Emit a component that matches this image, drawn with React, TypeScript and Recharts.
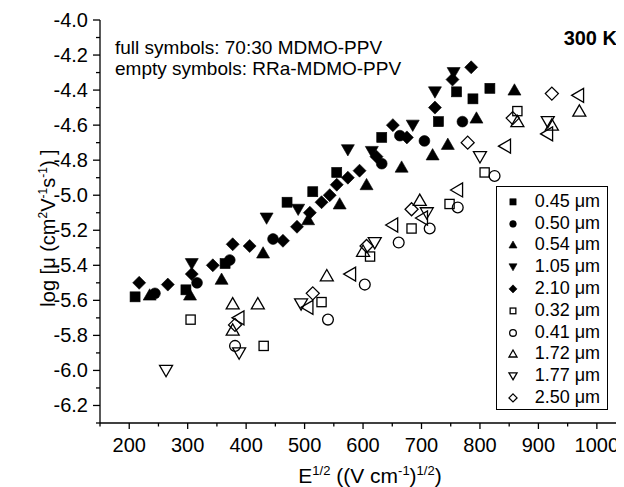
import React from 'react';
import { ScatterChart, Scatter, XAxis, YAxis, Legend } from 'recharts';

const FONT = '"Liberation Sans", Arial, Helvetica, sans-serif';

// tick values
const xTicks = [150, 200, 250, 300, 350, 400, 450, 500, 550, 600, 650, 700, 750, 800, 850, 900, 950, 1000];
const yTicks = [-6.3, -6.2, -6.1, -6.0, -5.9, -5.8, -5.7, -5.6, -5.5, -5.4, -5.3, -5.2, -5.1, -5.0, -4.9, -4.8, -4.7, -4.6, -4.5, -4.4, -4.3, -4.2, -4.1, -4.0];

// series values [E^1/2, log mu]
const s045 = [[210, -5.58], [297, -5.54], [364, -5.39], [470, -5.04], [514, -4.98], [555, -4.87], [632, -4.67], [729, -4.58], [760, -4.41], [788, -4.45], [817, -4.39]];
const s050 = [[244, -5.56], [316, -5.5], [372, -5.37], [446, -5.25], [632, -4.82], [663, -4.66], [705, -4.69], [770, -4.58]];
const s054 = [[235, -5.57], [304, -5.57], [358, -5.48], [429, -5.33], [506, -5.14], [560, -5.05], [606, -4.94], [666, -4.84], [719, -4.77], [745, -4.71], [794, -4.56], [859, -4.4]];
const s105 = [[307, -5.39], [435, -5.13], [489, -5.08], [574, -4.74], [615, -4.75], [685, -4.6], [723, -4.41], [755, -4.3]];
const s210 = [[217, -5.5], [266, -5.51], [307, -5.45], [343, -5.4], [377, -5.28], [406, -5.29], [463, -5.26], [487, -5.18], [509, -5.1], [529, -5.04], [543, -5.0], [555, -4.94], [574, -4.9], [594, -4.86], [623, -4.78], [651, -4.6], [675, -4.67], [723, -4.5], [753, -4.34], [785, -4.27]];
const o032 = [[305, -5.71], [430, -5.86], [529, -5.61], [612, -5.35], [683, -5.19], [748, -5.05], [808, -4.87], [864, -4.52]];
const o041 = [[381, -5.86], [540, -5.71], [603, -5.51], [661, -5.27], [714, -5.19], [762, -5.07], [825, -4.89]];
const o172 = [[377, -5.62], [420, -5.62], [377, -5.77], [538, -5.46], [600, -5.32], [697, -5.03], [864, -4.58], [923, -4.6], [970, -4.52]];
const o177 = [[263, -6.0], [388, -5.9], [494, -5.62], [620, -5.27], [709, -5.1], [800, -4.78], [916, -4.58]];
const o250 = [[381, -5.74], [514, -5.56], [606, -5.29], [683, -5.08], [779, -4.7], [856, -4.56], [923, -4.42]];
const oLeft = [[386, -5.7], [504, -5.64], [577, -5.45], [649, -5.17], [700, -5.13], [760, -4.97], [842, -4.72], [914, -4.65], [967, -4.43]];

type Kind = 'square' | 'circle' | 'up' | 'down' | 'diamond' | 'left';

const toPts = (a: number[][]) => a.map(([x, y]) => ({ x, y }));

const series: { name: string; data: number[][]; kind: Kind; filled: boolean; legend: boolean }[] = [
  { name: '0.45 μm', data: s045, kind: 'square', filled: true, legend: true },
  { name: '0.50 μm', data: s050, kind: 'circle', filled: true, legend: true },
  { name: '0.54 μm', data: s054, kind: 'up', filled: true, legend: true },
  { name: '1.05 μm', data: s105, kind: 'down', filled: true, legend: true },
  { name: '2.10 μm', data: s210, kind: 'diamond', filled: true, legend: true },
  { name: '0.32 μm', data: o032, kind: 'square', filled: false, legend: true },
  { name: '0.41 μm', data: o041, kind: 'circle', filled: false, legend: true },
  { name: '1.72 μm', data: o172, kind: 'up', filled: false, legend: true },
  { name: '1.77 μm', data: o177, kind: 'down', filled: false, legend: true },
  { name: '2.50 μm', data: o250, kind: 'diamond', filled: false, legend: true },
  { name: 'left', data: oLeft, kind: 'left', filled: false, legend: false },
];

const Marker = ({ cx, cy, kind, filled, k = 1 }: { cx: number; cy: number; kind: Kind; filled: boolean; k?: number }) => {
  const fill = filled ? '#000' : 'none';
  const stroke = '#000';
  const sw = filled ? 0.6 : 1.3;
  if (cx == null || cy == null) return null;
  switch (kind) {
    case 'square': {
      const h = (filled ? 5 : 4.6) * k;
      return <rect x={cx - h} y={cy - h} width={2 * h} height={2 * h} fill={fill} stroke={stroke} strokeWidth={sw} />;
    }
    case 'circle':
      return <circle cx={cx} cy={cy} r={5.4 * k} fill={fill} stroke={stroke} strokeWidth={sw} />;
    case 'up': {
      const w = 6.5 * k, t = 6.3 * k, b = 5 * k;
      return <polygon points={`${cx},${cy - t} ${cx + w},${cy + b} ${cx - w},${cy + b}`} fill={fill} stroke={stroke} strokeWidth={sw} />;
    }
    case 'down': {
      const w = 6.5 * k, t = 6.3 * k, b = 5 * k;
      return <polygon points={`${cx},${cy + t} ${cx + w},${cy - b} ${cx - w},${cy - b}`} fill={fill} stroke={stroke} strokeWidth={sw} />;
    }
    case 'diamond': {
      const h = 6.5 * k;
      return <polygon points={`${cx},${cy - h} ${cx + h},${cy} ${cx},${cy + h} ${cx - h},${cy}`} fill={fill} stroke={stroke} strokeWidth={sw} />;
    }
    case 'left': {
      const w = 6 * k, h = 7 * k;
      return <polygon points={`${cx - w},${cy} ${cx + w},${cy - h} ${cx + w},${cy + h}`} fill={fill} stroke={stroke} strokeWidth={sw} />;
    }
  }
  return null;
};

const isMajorX = (v: number) => v % 100 === 0;
const isMajorY = (v: number) => Math.abs(Math.round(v * 10)) % 2 === 0;

const BottomTick = (p: any) => {
  const { x, y, payload } = p;
  const v = payload.value;
  const major = isMajorX(v);
  return (
    <g>
      <line x1={x} x2={x} y1={y} y2={y + (major ? 6 : 3.5)} stroke="#000" strokeWidth={1.3} />
      {major && (
        <text x={x} y={y + 29} textAnchor="middle" fontSize={20} fontFamily={FONT} fill="#000">
          {v}
        </text>
      )}
    </g>
  );
};

const TopTick = (p: any) => {
  const { x, y, payload } = p;
  const major = isMajorX(payload.value);
  return <line x1={x} x2={x} y1={y} y2={y + (major ? 6 : 4)} stroke="#000" strokeWidth={1.3} />;
};

const LeftTick = (p: any) => {
  const { x, y, payload } = p;
  const v = payload.value;
  const major = isMajorY(v);
  return (
    <g>
      <line x1={x - (major ? 7 : 4)} x2={x} y1={y} y2={y} stroke="#000" strokeWidth={1.3} />
      {major && (
        <text x={x - 12} y={y + 7} textAnchor="end" fontSize={20} fontFamily={FONT} fill="#000">
          {v.toFixed(1)}
        </text>
      )}
    </g>
  );
};

const RightTick = (p: any) => {
  const { x, y, payload } = p;
  const major = isMajorY(payload.value);
  return <line x1={x} x2={x - (major ? 6 : 4)} y1={y} y2={y} stroke="#000" strokeWidth={1.3} />;
};

const orderOf: Record<string, number> = {};
const byName: Record<string, (typeof series)[number]> = {};
series.forEach((s, i) => {
  byName[s.name] = s;
  orderOf[s.name] = i;
});

const LegendBox = (props: any) => {
  const items = (props.payload || [])
    .filter((it: any) => byName[it.value] && byName[it.value].legend)
    .slice()
    .sort((a: any, b: any) => orderOf[a.value] - orderOf[b.value]);
  return (
    <div
      style={{
        width: 112,
        height: 224,
        border: '1.3px solid #000',
        boxSizing: 'border-box',
        background: '#fff',
        paddingTop: 3.8,
        fontFamily: FONT,
        fontSize: 18,
        color: '#000',
      }}
    >
      {items.map((it: any) => {
        const cfg = byName[it.value];
        return (
          <div key={it.value} style={{ height: 21.8, display: 'flex', alignItems: 'center' }}>
            <svg width={30} height={21.8} style={{ marginLeft: 0.7, flex: 'none' }}>
              <Marker cx={15} cy={10.9} kind={cfg.kind} filled={cfg.filled} k={0.62} />
            </svg>
            <span style={{ marginLeft: 7, whiteSpace: 'nowrap', lineHeight: '21.8px' }}>{it.value}</span>
          </div>
        );
      })}
    </div>
  );
};

export default function App() {
  return (
    <div style={{ position: 'relative', width: 616, height: 479 }}>
      <ScatterChart width={616} height={479} margin={{ top: 12, right: 2, bottom: 0, left: 0 }}>
        <XAxis
          xAxisId="b"
          type="number"
          dataKey="x"
          domain={[150, 1043]}
          ticks={xTicks}
          interval={0}
          height={64}
          tickSize={0}
          tickMargin={0}
          tickLine={false}
          tick={<BottomTick />}
          axisLine={{ stroke: '#000', strokeWidth: 1.3 }}
          allowDataOverflow
        />
        <XAxis
          xAxisId="t"
          orientation="top"
          type="number"
          dataKey="x"
          domain={[150, 1043]}
          ticks={xTicks}
          interval={0}
          height={0}
          tickSize={0}
          tickMargin={0}
          tickLine={false}
          tick={<TopTick />}
          axisLine={{ stroke: '#000', strokeWidth: 1.3 }}
          allowDataOverflow
        />
        <YAxis
          yAxisId="l"
          type="number"
          dataKey="y"
          domain={[-6.3, -4.0]}
          ticks={yTicks}
          interval={0}
          width={92}
          tickSize={0}
          tickMargin={0}
          tickLine={false}
          tick={<LeftTick />}
          axisLine={{ stroke: '#000', strokeWidth: 1.3 }}
          allowDataOverflow
        />
        <YAxis
          yAxisId="r"
          orientation="right"
          type="number"
          dataKey="y"
          domain={[-6.3, -4.0]}
          ticks={yTicks}
          interval={0}
          width={0}
          tickSize={0}
          tickMargin={0}
          tickLine={false}
          tick={<RightTick />}
          axisLine={{ stroke: '#000', strokeWidth: 1.3 }}
          allowDataOverflow
        />
        <Legend
          layout="vertical"
          align="center"
          verticalAlign="middle"
          width={112}
          height={224}
          wrapperStyle={{ left: 488, top: 178, width: 112, height: 224 }}
          content={<LegendBox />}
        />
        {series.map((s) => (
          <Scatter
            key={s.name}
            name={s.name}
            xAxisId="b"
            yAxisId="l"
            data={toPts(s.data)}
            isAnimationActive={false}
            legendType={s.legend ? 'square' : 'none'}
            shape={(p: any) => <Marker cx={p.cx} cy={p.cy} kind={s.kind} filled={s.filled} />}
          />
        ))}
      </ScatterChart>
      <svg
        width={616}
        height={479}
        style={{ position: 'absolute', left: 0, top: 0, pointerEvents: 'none' }}
        fontFamily={FONT}
      >
        <text x={107} y={46} fontSize={19} fill="#000">full symbols: 70:30 MDMO-PPV</text>
        <text x={107} y={67} fontSize={19} fill="#000">empty symbols: RRa-MDMO-PPV</text>
        <text x={609} y={37} fontSize={20} fontWeight="bold" textAnchor="end" fill="#000">300 K</text>
        <text x={362} y={475} fontSize={21} textAnchor="middle" fill="#000">
          E<tspan dy={-8} fontSize={13}>1/2</tspan>
          <tspan dy={8}> ((V cm</tspan>
          <tspan dy={-8} fontSize={13}>-1</tspan>
          <tspan dy={8}>)</tspan>
          <tspan dy={-8} fontSize={13}>1/2</tspan>
          <tspan dy={8}>)</tspan>
        </text>
        <text x={47} y={220} fontSize={20} textAnchor="middle" fill="#000" transform="rotate(-90 47 220)">
          log [μ (cm<tspan dy={-8} fontSize={12}>2</tspan>
          <tspan dy={8}>V</tspan>
          <tspan dy={-8} fontSize={12}>-1</tspan>
          <tspan dy={8}>s</tspan>
          <tspan dy={-8} fontSize={12}>-1</tspan>
          <tspan dy={8}>) ]</tspan>
        </text>
      </svg>
    </div>
  );
}
